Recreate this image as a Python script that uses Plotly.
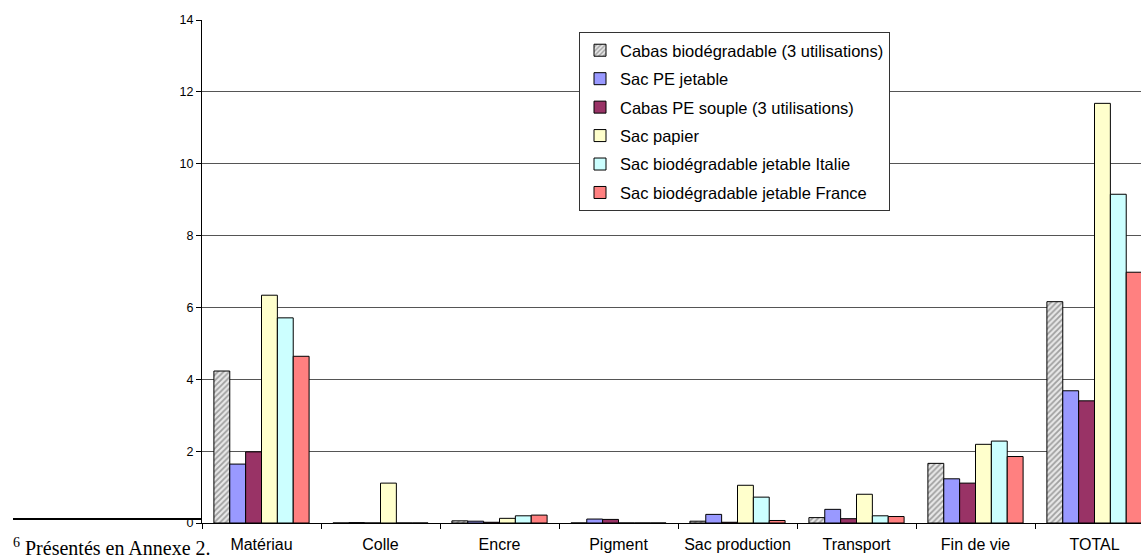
import plotly.graph_objects as go

CATEGORIES = ["Matériau", "Colle", "Encre", "Pigment", "Sac production",
              "Transport", "Fin de vie", "TOTAL"]

SERIES_NAMES = [
    "Cabas biodégradable (3 utilisations)",
    "Sac PE jetable",
    "Cabas PE souple (3 utilisations)",
    "Sac papier",
    "Sac biodégradable jetable Italie",
    "Sac biodégradable jetable France",
]

CABAS_BIO = [4.23, 0.0, 0.06, 0.0, 0.05, 0.15, 1.66, 6.16]
SAC_PE = [1.64, 0.01, 0.05, 0.11, 0.24, 0.38, 1.23, 3.68]
CABAS_PE = [1.98, 0.0, 0.02, 0.10, 0.02, 0.12, 1.11, 3.40]
SAC_PAPIER = [6.34, 1.11, 0.13, 0.0, 1.05, 0.80, 2.19, 11.68]
SAC_ITALIE = [5.71, 0.0, 0.20, 0.0, 0.72, 0.20, 2.28, 9.15]
SAC_FRANCE = [4.64, 0.0, 0.22, 0.0, 0.07, 0.18, 1.85, 6.98]

Y_TICKS = [0, 2, 4, 6, 8, 10, 12, 14]

COLORS = ["#DDDDDD", "#9999FF", "#993366", "#FFFFCC", "#CCFFFF", "#FF8080"]

W, H = 1141, 556
L, R, T, B = 202, 1141, 20, 523


def px_x(x):
    return (x - L) / (R - L)


def px_y(y):
    return (B - y) / (B - T)


fig = go.Figure()
values = [CABAS_BIO, SAC_PE, CABAS_PE, SAC_PAPIER, SAC_ITALIE, SAC_FRANCE]
for i, (name, vals) in enumerate(zip(SERIES_NAMES, values)):
    marker = dict(color=COLORS[i], line=dict(color="#000000", width=1))
    if i == 0:
        marker["pattern"] = dict(shape="/", fgcolor="#555555", bgcolor="#E8E8E8",
                                 size=4, solidity=0.45)
    fig.add_trace(go.Bar(x=CATEGORIES, y=vals, name=name, marker=marker,
                         legendgroup=f"g{i}"))

# footnote rule and text (page footer of the source document)
fig.add_shape(type="line", xref="paper", yref="paper",
              x0=px_x(13), x1=px_x(202), y0=px_y(519), y1=px_y(519),
              line=dict(color="#000000", width=2))
fig.add_annotation(xref="paper", yref="paper", x=px_x(11), y=px_y(533),
                   xanchor="left", yanchor="top", showarrow=False,
                   text="<sup>6</sup> Présentés en Annexe 2.",
                   font=dict(family="Liberation Serif, Times New Roman, serif",
                             size=20, color="#000000"))

fig.update_layout(
    width=W, height=H,
    margin=dict(l=L, r=W - R, t=T, b=H - B, pad=0),
    paper_bgcolor="white", plot_bgcolor="white",
    barmode="group", bargap=0.2, bargroupgap=0,
    font=dict(family="Liberation Sans, Arial, sans-serif", color="#000000"),
    legend=dict(
        x=px_x(579), y=px_y(32), xanchor="left", yanchor="top",
        bgcolor="white", bordercolor="#333333", borderwidth=1,
        font=dict(size=16.5), tracegroupgap=4, itemwidth=30,
    ),
    showlegend=True,
)
fig.update_xaxes(
    type="category", range=[-0.5, -0.5 + (R - L) / 119.0],
    showline=True, linecolor="#000000", linewidth=1,
    ticks="outside", tickson="boundaries", ticklen=5, tickcolor="#000000",
    ticklabelstandoff=7, tickfont=dict(size=16), showgrid=False,
)
fig.update_yaxes(
    range=[0, 14], tickvals=Y_TICKS,
    showline=True, linecolor="#000000", linewidth=1,
    ticks="outside", ticklen=5, tickcolor="#000000",
    tickfont=dict(size=12.5), showgrid=True, gridcolor="#555555", gridwidth=1,
    zeroline=False,
)

# drop the page's default body margin so the figure sits at the window origin
fig.write_html(
    "out.html",
    config={"displayModeBar": False},
    post_script="document.body.style.margin='0';document.body.style.overflow='hidden';",
)
